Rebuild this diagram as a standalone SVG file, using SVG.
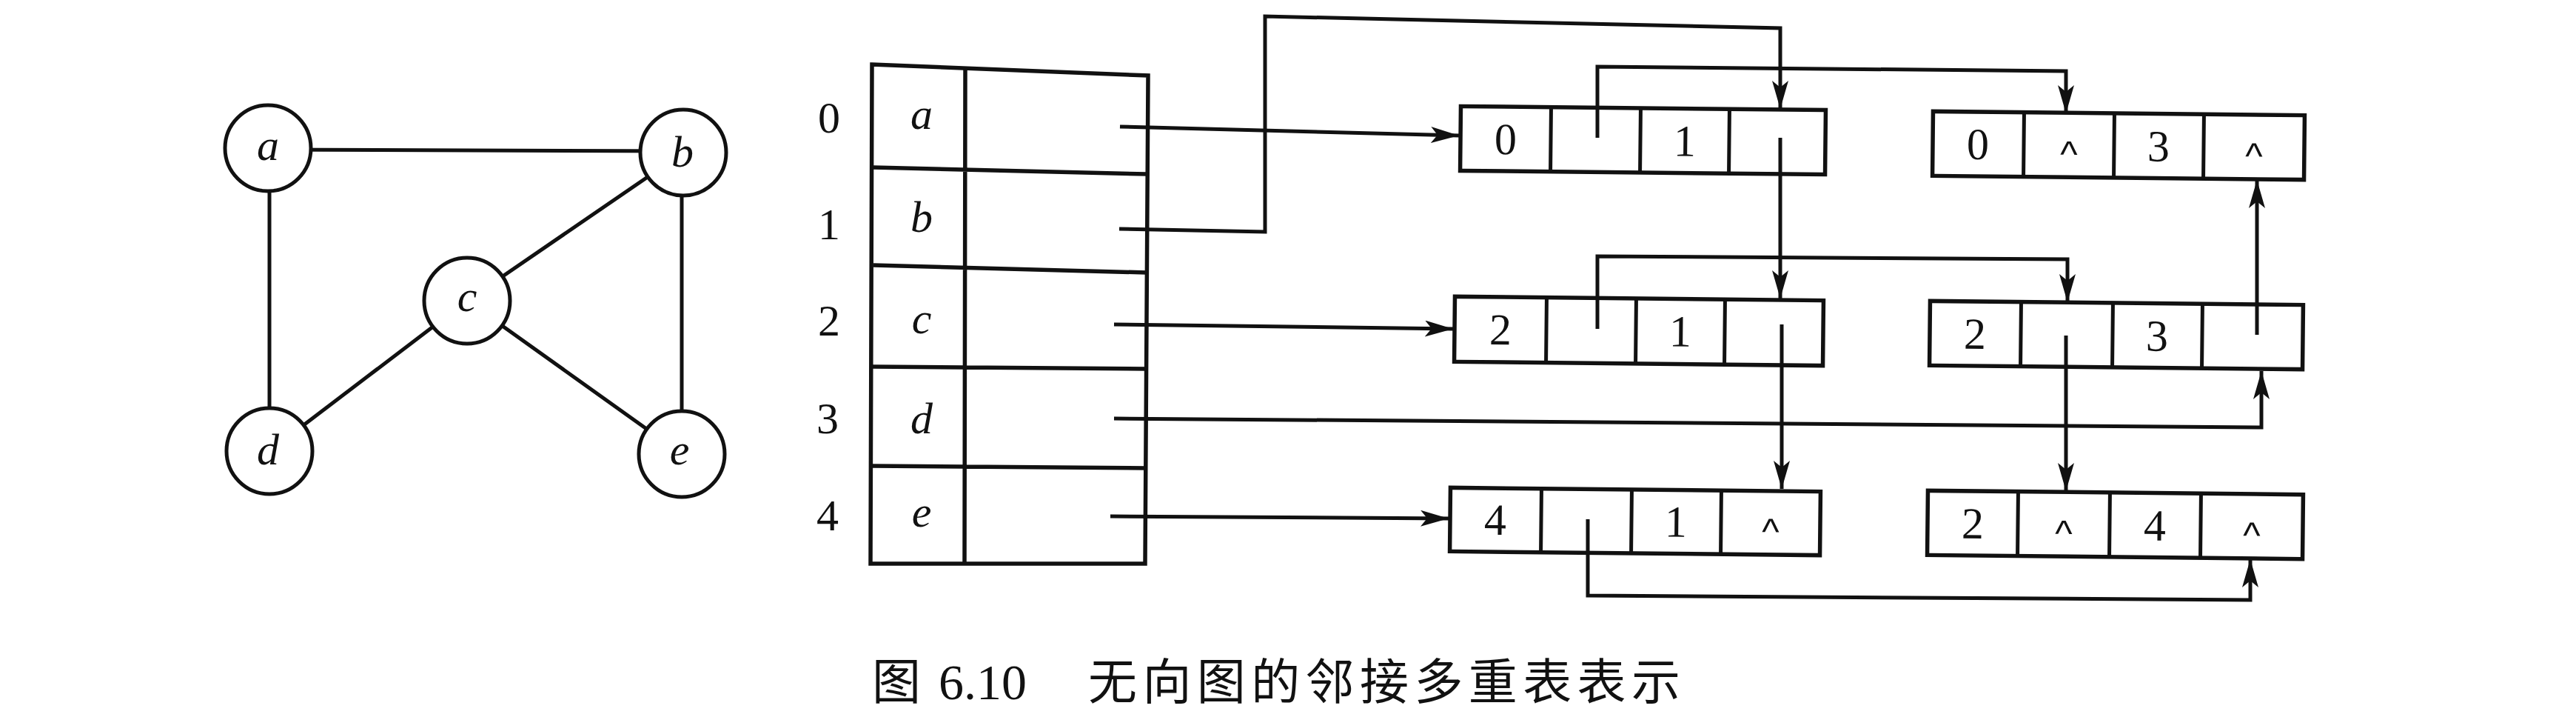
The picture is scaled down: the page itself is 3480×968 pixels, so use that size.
<svg xmlns="http://www.w3.org/2000/svg" width="3480" height="968" viewBox="0 0 3480 968">
<style>
.ln{fill:none;stroke:#111;stroke-width:5;stroke-linejoin:miter;stroke-linecap:butt}
.bx{fill:#fff;stroke:#111;stroke-width:5.5}
.cir{fill:#fff;stroke:#111;stroke-width:5}
.it{font-family:"Liberation Serif","Times New Roman",serif;font-style:italic;font-size:60px;fill:#111;text-anchor:middle}
.dg{font-family:"Liberation Serif","Times New Roman",serif;font-size:60px;fill:#111;text-anchor:middle}
.nl{font-family:"Liberation Sans",Arial,sans-serif;font-size:50px;fill:#111;text-anchor:middle}
.cap{font-family:"Noto Sans CJK SC","Noto Sans CJK JP",sans-serif;font-size:66px;fill:#111}
.capn{font-family:"Liberation Serif","Times New Roman",serif;font-size:68px;fill:#111}
</style>
<defs>
<marker id="arr" markerUnits="userSpaceOnUse" viewBox="0 0 38 22" markerWidth="38" markerHeight="22" refX="38" refY="11" orient="auto">
<path d="M0,0 L38,11 L0,22 L9,11 Z" fill="#111"/>
</marker>
</defs>
<rect x="0" y="0" width="3480" height="968" fill="#fff"/>

<!-- graph edges -->
<g id="graph-edges" class="ln">
<line x1="362" y1="202" x2="923" y2="204"/>
<line x1="364" y1="200" x2="364" y2="609"/>
<line x1="921" y1="206" x2="921" y2="613"/>
<line x1="631" y1="406" x2="923" y2="206"/>
<line x1="631" y1="406" x2="364" y2="609"/>
<line x1="631" y1="406" x2="921" y2="613"/>
</g>
<g id="v-a"><circle class="cir" cx="362" cy="200" r="58"/><text class="it" x="362" y="216">a</text></g>
<g id="v-b"><circle class="cir" cx="923" cy="206" r="58"/><text class="it" x="922" y="225">b</text></g>
<g id="v-c"><circle class="cir" cx="631" cy="406" r="58"/><text class="it" x="631" y="420">c</text></g>
<g id="v-d"><circle class="cir" cx="364" cy="609" r="58"/><text class="it" x="362" y="627">d</text></g>
<g id="v-e"><circle class="cir" cx="921" cy="613" r="58"/><text class="it" x="918" y="627">e</text></g>

<!-- vertex table -->
<g id="table">
<path class="bx" d="M1178,87 L1551,102 L1547,761 L1176,761 Z"/>
<path class="ln" style="stroke-width:5.5" d="M1180,226 L1549,235 M1180,358 L1549,368 M1178,495 L1549,498 M1178,629 L1549,632 M1304,94 L1303,761"/>
</g>
<g id="row0"><text class="dg" x="1120" y="179">0</text><text class="it" x="1245" y="174">a</text></g>
<g id="row1"><text class="dg" x="1120" y="323">1</text><text class="it" x="1245" y="313">b</text></g>
<g id="row2"><text class="dg" x="1120" y="453">2</text><text class="it" x="1245" y="450">c</text></g>
<g id="row3"><text class="dg" x="1118" y="585">3</text><text class="it" x="1245" y="585">d</text></g>
<g id="row4"><text class="dg" x="1118" y="716">4</text><text class="it" x="1245" y="711">e</text></g>

<!-- edge nodes -->
<g id="e01" transform="rotate(0.6 2220 190)">
<rect class="bx" x="1973" y="146" width="493" height="87"/>
<path class="ln" d="M2095,146 V233 M2216,146 V233 M2336,146 V233"/>
<text class="dg" x="2034" y="210">0</text><text class="dg" x="2276" y="210">1</text>
</g>
<g id="e03" transform="rotate(0.6 2862 197)">
<rect class="bx" x="2611" y="153" width="502" height="87"/>
<path class="ln" d="M2734,153 V240 M2856,153 V240 M2977,153 V240"/>
<text class="dg" x="2672" y="217">0</text><text class="nl" x="2795" y="226">^</text><text class="dg" x="2916" y="217">3</text><text class="nl" x="3045" y="226">^</text>
</g>
<g id="e21" transform="rotate(0.6 2214 447)">
<rect class="bx" x="1965" y="403" width="498" height="88"/>
<path class="ln" d="M2089,403 V491 M2210,403 V491 M2330,403 V491"/>
<text class="dg" x="2027" y="467">2</text><text class="dg" x="2270" y="467">1</text>
</g>
<g id="e23" transform="rotate(0.6 2859 452)">
<rect class="bx" x="2607" y="409" width="504" height="87"/>
<path class="ln" d="M2730,409 V496 M2854,409 V496 M2975,409 V496"/>
<text class="dg" x="2668" y="473">2</text><text class="dg" x="2914" y="473">3</text>
</g>
<g id="e41" transform="rotate(0.6 2209 704)">
<rect class="bx" x="1959" y="661" width="500" height="86"/>
<path class="ln" d="M2082,661 V747 M2204,661 V747 M2325,661 V747"/>
<text class="dg" x="2020" y="724">4</text><text class="dg" x="2264" y="724">1</text><text class="nl" x="2392" y="733">^</text>
</g>
<g id="e24" transform="rotate(0.6 2857 708)">
<rect class="bx" x="2604" y="665" width="507" height="87"/>
<path class="ln" d="M2726,665 V752 M2850,665 V752 M2973,665 V752"/>
<text class="dg" x="2665" y="729">2</text><text class="nl" x="2788" y="738">^</text><text class="dg" x="2911" y="729">4</text><text class="nl" x="3042" y="738">^</text>
</g>

<!-- connectors -->
<g id="connectors" class="ln" marker-end="url(#arr)">
<path d="M1513,171 L1971,183"/>
<path d="M1512,309 L1709,313 L1709,22 L2405,38 L2405,147"/>
<path d="M1505,438 L1963,444"/>
<path d="M1505,565 L3055,577 L3055,501"/>
<path d="M1500,697 L1957,700"/>
<path d="M2158,186 L2158,90 L2791,96 L2791,153"/>
<path d="M2405,186 L2405,403"/>
<path d="M2158,444 L2158,346 L2793,350 L2793,408"/>
<path d="M2407,438 L2407,660"/>
<path d="M3049,452 L3049,243"/>
<path d="M2791,453 L2791,663"/>
<path d="M2145,701 L2145,804 L3040,810 L3040,755"/>
</g>

<!-- caption -->
<g id="caption">
<text class="cap" x="1178" y="944">图</text>
<text class="capn" x="1268" y="944">6.10</text>
<text class="cap" x="1470" y="944" textLength="800" lengthAdjust="spacing">无向图的邻接多重表表示</text>
</g>
</svg>
